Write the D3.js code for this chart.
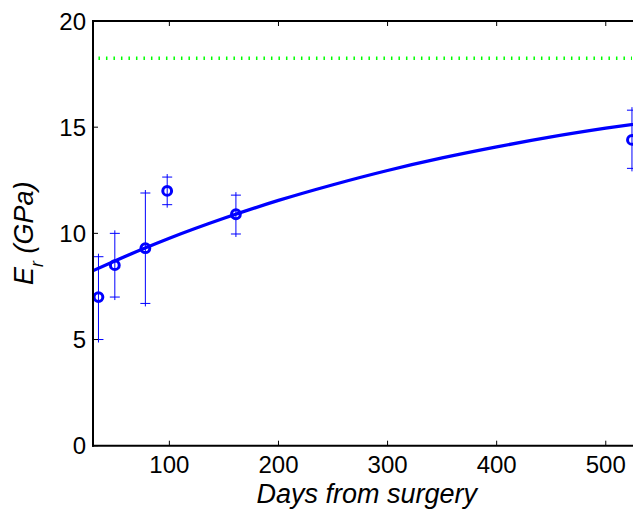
<!DOCTYPE html>
<html>
<head>
<meta charset="utf-8">
<script src="https://cdn.jsdelivr.net/npm/d3@7"></script>
<style>
  html, body { margin: 0; padding: 0; background: #fff; overflow: hidden; }
  svg { display: block; font-family: "Liberation Sans", Arial, sans-serif; }
</style>
</head>
<body>
<svg id="chart" width="633" height="509"></svg>
<script>
// Measured reduced modulus vs. healing time
const days = [35, 50, 78, 98, 161, 524];
const modulus = [7.0, 8.5, 9.3, 12.0, 10.9, 14.4];
const errLow = [5.0, 7.0, 6.7, 11.35, 9.97, 13.06];
const errHigh = [8.9, 10.0, 11.9, 12.65, 11.8, 15.8];

// Fitted recovery curve, sampled
const fitDays = [30, 50, 75, 100, 150, 200, 250, 300, 350, 400, 450, 500, 550];
const fitValues = [8.24, 8.70, 9.25, 9.77, 10.71, 11.55, 12.29, 12.96, 13.55, 14.07, 14.54, 14.95, 15.32];

// Reference (intact bone) level
const refDays = [35, 524];
const refValue = 18.25;

const xTicks = [100, 200, 300, 400, 500];
const yTicks = [0, 5, 10, 15, 20];

const svg = d3.select("#chart");
const plotL = 93, plotR = 638.5, plotT = 21, plotB = 445.7;

const x = d3.scaleLinear().domain([30, 530]).range([plotL, plotR]);
const y = d3.scaleLinear().domain([0, 20]).range([plotB, plotT]);

const blue = "#0000ff";

// Reference dotted line
svg.append("line")
  .attr("x1", x(refDays[0])).attr("x2", x(refDays[1]))
  .attr("y1", y(refValue)).attr("y2", y(refValue))
  .attr("stroke", "#00ff00").attr("stroke-width", 3.5)
  .attr("stroke-dasharray", "1.5,6");

// Fit curve, clipped to the axes
svg.append("clipPath").attr("id", "plotClip")
  .append("rect").attr("x", plotL).attr("y", plotT)
  .attr("width", plotR - plotL).attr("height", plotB - plotT);

svg.append("path")
  .datum(fitDays.map((d, i) => [d, fitValues[i]]))
  .attr("clip-path", "url(#plotClip)")
  .attr("fill", "none").attr("stroke", blue).attr("stroke-width", 3.3)
  .attr("d", d3.line().x(d => x(d[0])).y(d => y(d[1])).curve(d3.curveMonotoneX));

// Error bars
const eb = svg.append("g").attr("stroke", blue).attr("stroke-width", 1);
days.forEach((d, i) => {
  const cx = x(d);
  eb.append("line").attr("x1", cx).attr("x2", cx)
    .attr("y1", y(errHigh[i]) - 3).attr("y2", y(errLow[i]) + 3);
  [errLow[i], errHigh[i]].forEach(v => {
    eb.append("line").attr("x1", cx - 5).attr("x2", cx + 5)
      .attr("y1", y(v)).attr("y2", y(v));
  });
});

// Data markers
svg.append("g").selectAll("circle")
  .data(days.map((d, i) => [d, modulus[i]]))
  .join("circle")
  .attr("cx", d => x(d[0])).attr("cy", d => y(d[1]))
  .attr("r", 4.4)
  .attr("fill", "none").attr("stroke", blue).attr("stroke-width", 3);

// Axes box
const ax = svg.append("g").attr("stroke", "#000").attr("stroke-width", 2).attr("fill", "none");
ax.append("line").attr("x1", plotL).attr("x2", plotL).attr("y1", plotT - 1).attr("y2", plotB + 1);
ax.append("line").attr("x1", plotL - 1).attr("x2", plotR).attr("y1", plotB).attr("y2", plotB);
ax.append("line").attr("x1", plotL - 1).attr("x2", plotR).attr("y1", plotT).attr("y2", plotT);

// Inward ticks
const tk = svg.append("g").attr("stroke", "#000").attr("stroke-width", 1);
xTicks.forEach(t => {
  tk.append("line").attr("x1", x(t)).attr("x2", x(t)).attr("y1", plotB).attr("y2", plotB - 5);
  tk.append("line").attr("x1", x(t)).attr("x2", x(t)).attr("y1", plotT).attr("y2", plotT + 5);
});
yTicks.forEach(t => {
  tk.append("line").attr("x1", plotL).attr("x2", plotL + 5).attr("y1", y(t)).attr("y2", y(t));
});

// Tick labels
svg.append("g").selectAll("text").data(xTicks).join("text")
  .attr("x", d => x(d)).attr("y", plotB + 27.6)
  .attr("text-anchor", "middle").attr("font-size", 24).attr("fill", "#000")
  .text(d => d);

svg.append("g").selectAll("text").data(yTicks).join("text")
  .attr("x", plotL - 7).attr("y", d => y(d) + 8.6)
  .attr("text-anchor", "end").attr("font-size", 24).attr("fill", "#000")
  .text(d => d);

// Axis titles
svg.append("text")
  .attr("x", (plotL + plotR) / 2 + 1).attr("y", 503)
  .attr("text-anchor", "middle").attr("font-size", 27).attr("font-style", "italic")
  .text("Days from surgery");

const yl = svg.append("text")
  .attr("transform", `translate(33, ${(plotT + plotB) / 2}) rotate(-90)`)
  .attr("text-anchor", "middle").attr("font-size", 27).attr("font-style", "italic");
yl.append("tspan").text("E");
yl.append("tspan").attr("font-size", 18).attr("dy", 10).text("r");
yl.append("tspan").attr("dy", -10).text(" (GPa)");
</script>
</body>
</html>
